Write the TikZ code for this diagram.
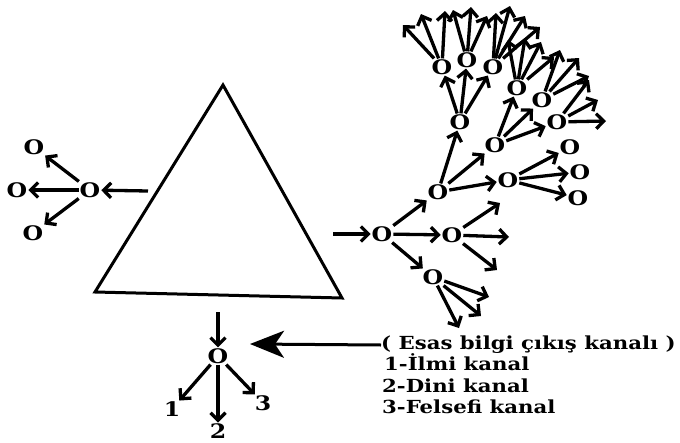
\documentclass[tikz,border=0pt]{standalone}
\usepackage{fontspec}
\setmainfont{DejaVu Serif}
\newfontfamily\wideserif[FakeStretch=1.18]{DejaVu Serif}
\usetikzlibrary{arrows.meta,positioning}
\tikzset{
  o/.style={font=\wideserif\bfseries\fontsize{20}{20}\selectfont, inner sep=0pt, outer sep=1pt},
  arr/.style={line width=3.3pt, -{Straight Barb[length=7.5pt,width=15pt]}},
  bigarr/.style={line width=3pt, -{Stealth[length=34pt,width=27pt,inset=9pt]}},
  lbl/.style={font=\wideserif\bfseries\fontsize{18}{21}\selectfont, inner sep=0pt, text height=15pt, text depth=6pt},
}
\begin{document}
\begin{tikzpicture}[x=1pt,y=-1pt]
  \useasboundingbox (0,0) rectangle (680,442);
  % Ucgen
  \draw[line width=3pt] (223,85) -- (342,298) -- (95,292) -- cycle;
  % Sol kume
  \node[o] (lc) at (90,190) {O};
  \node[o] (l1) at (34,147) {O};
  \node[o] (l2) at (17,190) {O};
  \node[o] (l3) at (33,233) {O};
  \coordinate (lin) at (148,191);
  \draw[arr] (lin) -- (lc);
  \foreach \n in {l1,l2,l3} \draw[arr] (lc) -- (\n);
  % Alt kanal
  \coordinate (bin) at (218,312);
  \node[o] (bo) at (218,356) {O};
  \node[o] (d1) at (172,409) {1};
  \node[o] (d2) at (218,431) {2};
  \node[o] (d3) at (263,403) {3};
  \draw[arr] (bin) -- (bo);
  \foreach \n in {d1,d2,d3} \draw[arr] (bo) -- (\n);
  % Esas bilgi kanali
  \node[lbl, anchor=west] (chan) at (381,345) {( Esas bilgi çıkış kanalı )};
  \node[lbl, below=0pt of chan.south west, anchor=north west, xshift=3pt] (k1) {1-İlmi kanal};
  \node[lbl, below=0pt of k1.south west, anchor=north west, xshift=-2pt] (k2) {2-Dini kanal};
  \node[lbl, below=0pt of k2.south west, anchor=north west] (k3) {3-Felsefi kanal};
  \coordinate (tip) at (250,344);
  \draw[bigarr] (chan.west) -- (tip);
  % Sag agac
  \coordinate (rin) at (333,234);
  \node[o] (r0) at (382,234) {O};
  \draw[arr] (rin) -- (r0);
  \node[o] (a) at (438,192) {O};
  \node[o] (b) at (452,235) {O};
  \node[o] (c) at (433,277) {O};
  \foreach \n in {a,b,c} \draw[arr] (r0) -- (\n);
  \node[o] (a1) at (460,122) {O};
  \node[o] (a2) at (495,145) {O};
  \node[o] (a3) at (508,180) {O};
  \foreach \n in {a1,a2,a3} \draw[arr] (a) -- (\n);
  \node[o] (s1) at (570,147) {O};
  \node[o] (s2) at (580,172) {O};
  \node[o] (s3) at (578,198) {O};
  \foreach \n in {s1,s2,s3} \draw[arr] (a3) -- (\n);
  \node[o] (t1) at (442,67) {O};
  \node[o] (t2) at (467,60) {O};
  \node[o] (t3) at (493,67) {O};
  \foreach \n in {t1,t2,t3} \draw[arr] (a1) -- (\n);
  \node[o] (t4) at (517,88) {O};
  \node[o] (t5) at (542,100) {O};
  \node[o] (t6) at (557,122) {O};
  \foreach \n in {t4,t5,t6} \draw[arr] (a2) -- (\n);
  % Bos oklar
  \foreach \s/\pts in {b/{500/203,509/237,497/270}, c/{489/297,481/316,459/328},
      t1/{403/25,421/14,445/11}, t2/{453/10,471/7,487/16},
      t3/{496/13,510/6,525/16,540/27}, t4/{508/40,525/38,541/42,554/57},
      t5/{560/50,579/58,589/76}, t6/{589/80,598/100,606/121}} {
    \foreach \x/\y [count=\i] in \pts {
      \coordinate (\s-\i) at (\x,\y);
      \draw[arr] (\s) -- (\s-\i);
    }
  }
\end{tikzpicture}
\end{document}
